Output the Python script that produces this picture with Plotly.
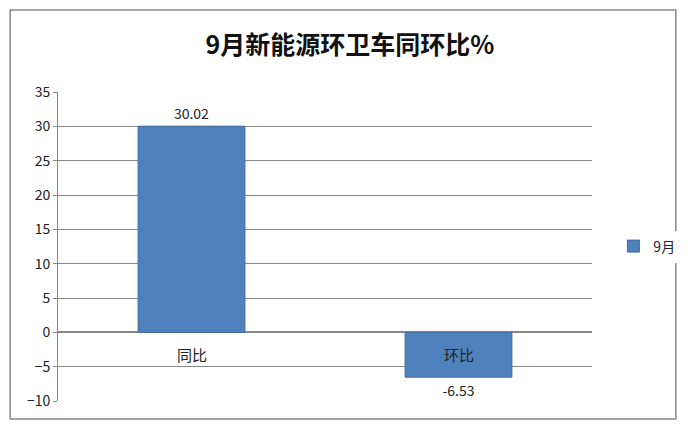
import plotly.graph_objects as go

categories = ["同比", "环比"]
values = [30.02, -6.53]
series_name = "9月"
title = "9月新能源环卫车同环比%"

font = "Noto Sans CJK SC, Liberation Sans, sans-serif"
blue = "#4f81bd"

fig = go.Figure()
fig.add_trace(go.Bar(
    x=categories, y=values, name=series_name,
    marker=dict(color=blue, line=dict(color="#3d6aa0", width=1)),
    text=[f"{v:.2f}" for v in values], textposition="outside",
    textfont=dict(size=14, color="#222"), cliponaxis=False,
))

# category labels sitting just under the zero line
for c in categories:
    fig.add_annotation(x=c, y=0, text=c, showarrow=False, yshift=-22,
                       font=dict(size=15, color="#222", family=font))

# outer frame of the chart
fig.add_shape(type="rect", xref="paper", yref="paper",
              x0=-0.0896, x1=1.157, y0=-0.0579, y1=1.265,
              line=dict(color="#888", width=1.5))

fig.update_layout(
    width=684, height=414,
    margin=dict(l=50, r=87, t=84, b=19),
    paper_bgcolor="white", plot_bgcolor="white",
    font=dict(family=font, color="#222"),
    title=dict(text=f"<b>{title}</b>", x=0.5, xanchor="center", y=0.91,
               yanchor="middle", font=dict(size=25, color="#111")),
    bargap=0.6,
    showlegend=True,
    legend=dict(x=1.04, y=0.5, yanchor="middle", font=dict(size=14)),
    xaxis=dict(showticklabels=False, showline=False, showgrid=False,
               zeroline=False),
    yaxis=dict(range=[-10, 35], dtick=5, showgrid=True, gridcolor="#888",
               gridwidth=1, zeroline=True, zerolinecolor="#888",
               showline=True, linecolor="#888", ticks="outside",
               ticklen=4, tickcolor="#888", tickfont=dict(size=14)),
)

fig.write_html("out.html")
